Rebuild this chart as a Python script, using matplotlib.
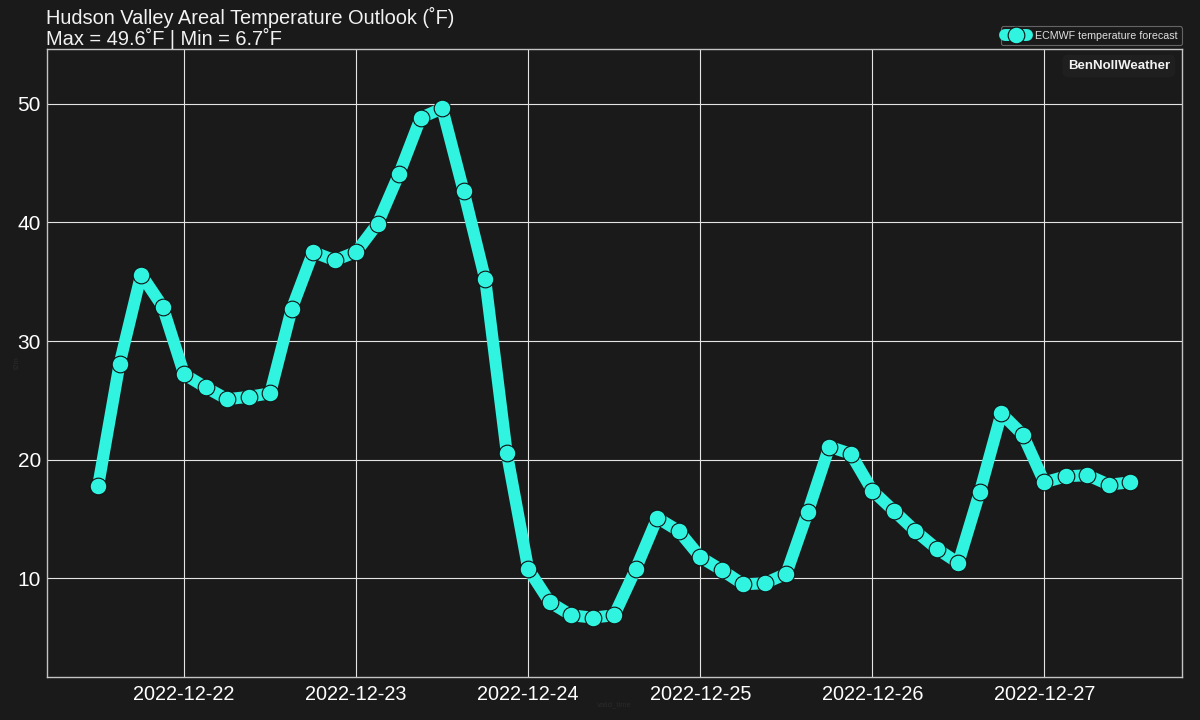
import pandas as pd
import matplotlib
matplotlib.use('Agg')
import matplotlib.pyplot as plt
import matplotlib.dates as mdates

start_time = '2022-12-21 12:00'
step_hours = 3
temps = [17.8, 28.1, 35.6, 32.9, 27.2, 26.1, 25.1, 25.3, 25.6, 32.7,
         37.5, 36.8, 37.5, 39.9, 44.1, 48.8, 49.6, 42.6, 35.2, 20.6,
         10.8, 8.0, 6.9, 6.7, 6.9, 10.8, 15.1, 14.0, 11.8, 10.7,
         9.5, 9.6, 10.4, 15.6, 21.1, 20.5, 17.4, 15.7, 14.0, 12.5,
         11.3, 17.3, 23.9, 22.1, 18.1, 18.6, 18.7, 17.9, 18.1]
y_ticks = [10, 20, 30, 40, 50]
date_ticks = ['2022-12-22', '2022-12-23', '2022-12-24', '2022-12-25', '2022-12-26', '2022-12-27']

times = pd.date_range(start_time, periods=len(temps), freq=f'{step_hours}h')

plt.rcParams['font.family'] = ['Liberation Sans', 'DejaVu Sans']
bg = '#1a1a1a'
teal = '#30f3e0'

fig = plt.figure(figsize=(12, 7.2), dpi=100, facecolor=bg)
ax = fig.add_axes([46.5 / 1200, 1 - 677 / 720, (1182 - 46.5) / 1200, (677 - 49) / 720], facecolor=bg)

ax.plot(times, temps, color=teal, lw=8.6, marker='o', ms=12.0,
        mfc=teal, mec='#111111', mew=0.8, solid_capstyle='round', solid_joinstyle='round',
        label='ECMWF temperature forecast')

ax.set_ylim(min(temps) - 5, max(temps) + 5)
ax.set_yticks(y_ticks)
ax.set_xticks(pd.to_datetime(date_ticks))
ax.xaxis.set_major_formatter(mdates.DateFormatter('%Y-%m-%d'))
ax.grid(True, color='#e4e4e4', lw=0.8)
ax.set_axisbelow(True)
ax.tick_params(length=0, labelcolor='white')
ax.tick_params(axis='x', labelsize=14.3, pad=5.5)
ax.tick_params(axis='y', labelsize=15, pad=4)
for s in ax.spines.values():
    s.set_color('#c4c4c4')
    s.set_linewidth(1.0)

ax.set_title('Hudson Valley Areal Temperature Outlook (˚F)\nMax = 49.6˚F | Min = 6.7˚F',
             loc='left', fontsize=14.45, color='#f2f2f2', pad=2.5, linespacing=1.0)
ax.set_xlabel('valid_time', fontsize=5.5, color='#2a2a2a', labelpad=-2)
ax.set_ylabel('t2m', fontsize=5.5, color='#2a2a2a', labelpad=-2)

leg = ax.legend(loc='lower right', bbox_to_anchor=(1.0, 1 + 4 / 628), fontsize=7.7, frameon=True,
                facecolor=bg, edgecolor='#777777', labelcolor='#e0e0e0', borderaxespad=0)
leg.get_frame().set_linewidth(0.8)

ax.text(0.9894, 0.973, 'BenNollWeather', transform=ax.transAxes, ha='right', va='center',
        fontsize=9.5, fontweight='bold', color='#f2f2f2',
        bbox=dict(boxstyle='round,pad=0.4', fc='#1f1f1f', ec='none'))

fig.savefig('out.png', dpi=100, facecolor=bg)
